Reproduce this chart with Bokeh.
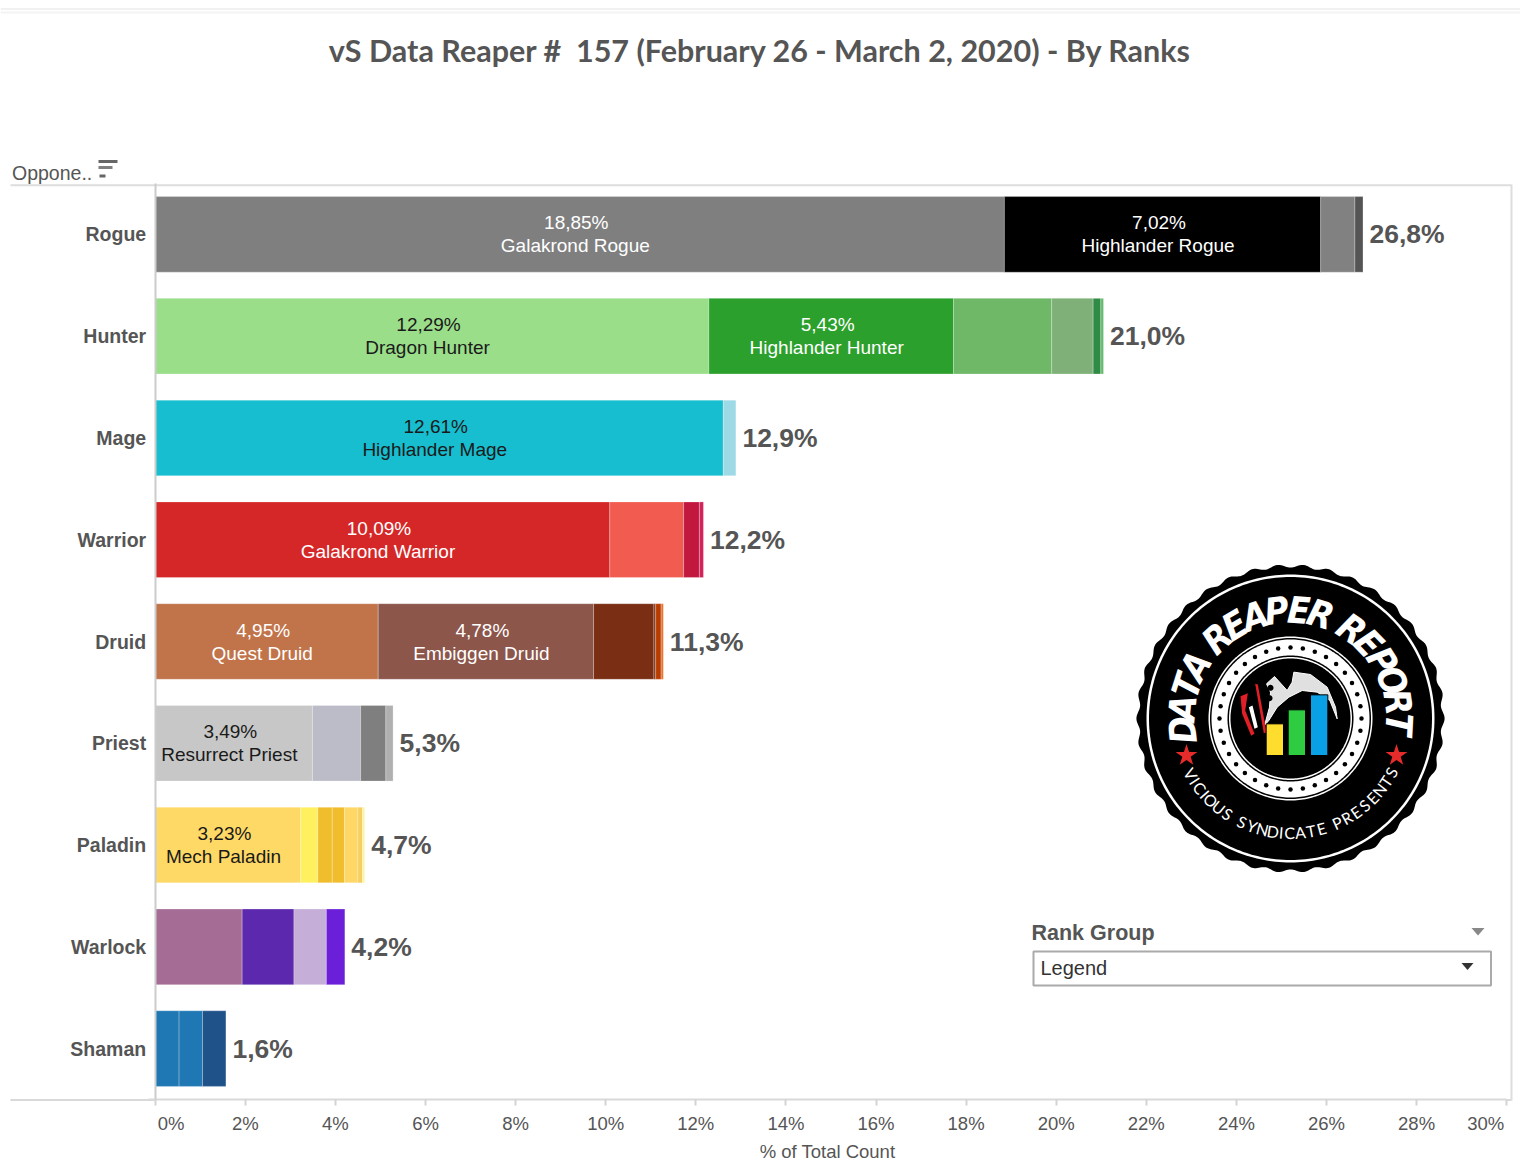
import numpy as np
from bokeh.plotting import figure
from bokeh.embed import file_html
from bokeh.resources import INLINE
from bokeh.core.properties import value
from bokeh.models import Range1d, FixedTicker, ColumnDataSource, LinearAxis

# ---- data ----
classes = ["Rogue", "Hunter", "Mage", "Warrior", "Druid", "Priest", "Paladin", "Warlock", "Shaman"]
totals = [26.8, 21.0, 12.9, 12.2, 11.3, 5.3, 4.7, 4.2, 1.6]

rogue_values = [18.85, 7.02, 0.76, 0.18]
hunter_values = [12.29, 5.43, 2.18, 0.92, 0.17, 0.06]
mage_values = [12.61, 0.28]
warrior_values = [10.09, 1.64, 0.35, 0.09]
druid_values = [4.95, 4.78, 1.34, 0.04, 0.12, 0.05]
priest_values = [3.49, 1.07, 0.56, 0.16]
paladin_values = [3.23, 0.38, 0.32, 0.27, 0.30, 0.10, 0.05]
warlock_values = [1.93, 1.15, 0.72, 0.41]
shaman_values = [0.53, 0.52, 0.52]

rogue_names = ["Galakrond Rogue", "Highlander Rogue", "", ""]
hunter_names = ["Dragon Hunter", "Highlander Hunter", "", "", "", ""]
mage_names = ["Highlander Mage", ""]
warrior_names = ["Galakrond Warrior", "", "", ""]
druid_names = ["Quest Druid", "Embiggen Druid", "", "", "", ""]
priest_names = ["Resurrect Priest", "", "", ""]
paladin_names = ["Mech Paladin", "", "", "", "", "", ""]
warlock_names = ["", "", "", ""]
shaman_names = ["", "", ""]

rogue_colors = ["#7f7f7f", "#000000", "#818181", "#555555"]
hunter_colors = ["#9ade8a", "#2ca02c", "#6eb868", "#7eb077", "#2f8b46", "#66bb6a"]
mage_colors = ["#17becf", "#9edae5"]
warrior_colors = ["#d62728", "#f25c50", "#c2183f", "#d0245a"]
druid_colors = ["#c1734a", "#8c564b", "#7a2e14", "#7a2e14", "#b83c00", "#e8702a"]
priest_colors = ["#c7c7c7", "#bcbcc8", "#7f7f7f", "#b0b0b0"]
paladin_colors = ["#ffd966", "#fff060", "#f0bd2c", "#f0bd2c", "#ffd766", "#f5cf60", "#fff29a"]
warlock_colors = ["#a56c96", "#5c28ad", "#c5aed8", "#6b1fd8"]
shaman_colors = ["#1f77b4", "#1f77b4", "#1f5289"]

dark_label_classes = ["Hunter", "Mage", "Priest", "Paladin"]
white_hunter_segment = "Highlander Hunter"

x_ticks = list(range(0, 31, 2))
title_text = "vS Data Reaper #\u00a0 157 (February 26 - March 2, 2020) - By Ranks"

GREY = "#555555"
SANS = value("Liberation Sans")

all_values = [rogue_values, hunter_values, mage_values, warrior_values, druid_values,
              priest_values, paladin_values, warlock_values, shaman_values]
all_names = [rogue_names, hunter_names, mage_names, warrior_names, druid_names,
             priest_names, paladin_names, warlock_names, shaman_names]
all_colors = [rogue_colors, hunter_colors, mage_colors, warrior_colors, druid_colors,
              priest_colors, paladin_colors, warlock_colors, shaman_colors]

# rows: first class at the top
n_rows = len(classes)
row = {c: n_rows - 1 - i for i, c in enumerate(classes)}

# ---- the frame fills the page; the axes are fixed at the plot's origin ----
W, H = 1520, 1172
X0, XS = 154.7, 45.05          # page x of 0 %, pixels per %
YB, YT = 1099, 183             # page y of the bottom and the top of the bar area
YS = (YB - YT) / n_rows
p = figure(width=W, height=H, output_backend="svg", toolbar_location=None, x_axis_location=None, y_axis_location=None,
           x_range=Range1d(-X0 / XS, (W - X0) / XS),
           y_range=Range1d((YB - H) / YS - 0.5, YB / YS - 0.5),
           min_border=0, background_fill_color="white", border_fill_color="white", outline_line_color=None)
p.extra_x_ranges["px"] = Range1d(0, W)
p.extra_y_ranges["px"] = Range1d(H, 0)
p.grid.visible = False
PX = dict(x_range_name="px", y_range_name="px")

# rules around the plot
rules_x0 = [0, 0, 10, 10, 1506]
rules_x1 = [1520, 1520, 1511, 155, 1511]
rules_y = [8.5, 12, 184.7, 1099.5, 1099.5]
rules_c = ["#f1f1f1", "#f4f4f4", "#dddddd", "#d9d9d9", "#d9d9d9"]
p.segment(x0=rules_x0, y0=rules_y, x1=rules_x1, y1=rules_y, line_color=rules_c, line_width=2, **PX)
p.segment(x0=[1511], y0=[184], x1=[1511], y1=[1100], line_color="#dddddd", line_width=2, **PX)

# axes
xa = LinearAxis(fixed_location=-0.5, bounds=(-0.15, 30))
p.add_layout(xa, "below")
xa.ticker = FixedTicker(ticks=x_ticks)
xa.major_label_overrides = {t: ("" if t in (0, 30) else f"{t}%") for t in x_ticks}
xa.major_label_text_font = "Liberation Sans"
xa.major_label_text_font_size = "18.5px"
xa.major_label_text_color = GREY
xa.major_label_standoff = 7
xa.major_tick_out = 6
xa.major_tick_in = 0
xa.minor_tick_out = 0
xa.minor_tick_in = 0
xa.major_tick_line_color = "#d4d4d4"
xa.major_tick_line_width = 2
xa.axis_line_color = "#d9d9d9"
xa.axis_line_width = 2
xa.axis_label = "% of Total Count"
xa.axis_label_text_font = "Liberation Sans"
xa.axis_label_text_font_size = "18.5px"
xa.axis_label_text_font_style = "normal"
xa.axis_label_text_color = GREY
xa.axis_label_standoff = 4

ya = LinearAxis(fixed_location=0, bounds=(-0.5, n_rows - 0.5))
p.add_layout(ya, "left")
ya.ticker = FixedTicker(ticks=list(row.values()))
ya.major_label_overrides = {v: k for k, v in row.items()}
ya.major_label_text_font = "Liberation Sans"
ya.major_label_text_font_style = "bold"
ya.major_label_text_font_size = "19.5px"
ya.major_label_text_color = GREY
ya.major_label_standoff = 9
ya.major_tick_out = 0
ya.major_tick_in = 0
ya.minor_tick_out = 0
ya.minor_tick_in = 0
ya.axis_line_color = "#cccccc"
ya.axis_line_width = 2

# the two end labels of the x axis are pushed inwards
p.text(x=[0, 30], y=[-0.5, -0.5], text=["0%", "30%"], x_offset=[16, -21], y_offset=[24, 24], text_color=GREY,
       text_font=SANS, text_font_size="18.5px", text_align="center", text_baseline="middle")

# stacked bars and labels
seg = dict(y=[], left=[], right=[], color=[])
lab = dict(y=[], x=[], pct=[], name=[], color=[])
tot = dict(y=[row[c] for c in classes], x=[sum(v) for v in all_values],
           text=[f"{t:.1f}%".replace(".", ",") for t in totals])
for cls, vals, names, cols in zip(classes, all_values, all_names, all_colors):
    left = 0.0
    for v, n, c in zip(vals, names, cols):
        seg["y"].append(row[cls]); seg["left"].append(left); seg["right"].append(left + v); seg["color"].append(c)
        if n:
            dark = cls in dark_label_classes and n != white_hunter_segment
            lab["y"].append(row[cls]); lab["x"].append(left + v / 2)
            lab["pct"].append(f"{v:.2f}%".replace(".", ","))
            lab["name"].append(n); lab["color"].append("#1a1a1a" if dark else "white")
        left += v

p.hbar(y="y", left="left", right="right", height=0.743, fill_color="color",
       line_color="white", line_alpha=0.25, line_width=1, source=ColumnDataSource(seg))
ls = ColumnDataSource(lab)
p.text(x="x", y="y", text="pct", source=ls, text_color="color", text_font=SANS, text_font_size="19px",
       text_align="center", text_baseline="middle", x_offset=-3.5, y_offset=-11.5)
p.text(x="x", y="y", text="name", source=ls, text_color="color", text_font=SANS, text_font_size="19px",
       text_align="center", text_baseline="middle", x_offset=-4.5, y_offset=11.5)
p.text(x="x", y="y", text="text", source=ColumnDataSource(tot), text_color=GREY, text_font=SANS,
       text_font_style="bold", text_font_size="26.5px", text_align="left", text_baseline="middle",
       x_offset=6.5, y_offset=0)

# title and the header of the row axis
p.text(x=[760], y=[49], text=[title_text], text_color=GREY, text_font=value("Lato"), text_font_style="bold",
       text_font_size="30.5px", text_align="center", text_baseline="middle", **PX)
p.text(x=[11.5], y=[172.5], text=["Oppone.."], text_color=GREY, text_font=SANS, text_font_size="19.5px",
       text_baseline="middle", **PX)
p.quad(left=[98, 98, 99], right=[117, 112, 105], top=[159.5, 165.5, 174], bottom=[162.5, 168.5, 177],
       fill_color=["#666666", "#808080", "#666666"], line_color=None, **PX)

# Rank Group control
p.text(x=[1031], y=[932], text=["Rank Group"], text_color=GREY, text_font=SANS, text_font_style="bold",
       text_font_size="21.5px", text_baseline="middle", **PX)
p.quad(left=[1033], right=[1490.5], top=[951], bottom=[985], fill_color="white", line_color="#aaaaaa",
       line_width=2, **PX)
p.text(x=[1040], y=[967], text=["Legend"], text_color="#333333", text_font=SANS, text_font_size="20px",
       text_baseline="middle", **PX)
p.patch(x=[1471, 1484, 1477.5], y=[927.5, 927.5, 935], fill_color="#888888", line_color=None, **PX)
p.patch(x=[1461, 1473, 1467], y=[962.5, 962.5, 969.5], fill_color="#333333", line_color=None, **PX)

# Logo
CX, CY = 1290, 718
th = np.linspace(0, 2 * np.pi, 721)
r = 152.5 + 1.6 * np.cos(38 * th)
p.patch(CX + r * np.cos(th), CY + r * np.sin(th), fill_color="black", line_color=None, **PX)


def disc(rad, color, cx=CX, cy=CY):
    a = np.linspace(0, 2 * np.pi, 241)
    p.patch(cx + rad * np.cos(a), cy + rad * np.sin(a), fill_color=color, line_color=None, **PX)


disc(144, "white"); disc(141.5, "black")
disc(82, "white"); disc(80.5, "black"); disc(79, "white"); disc(63, "black"); disc(61.5, "white"); disc(60, "black")
a = np.arange(36) * 2 * np.pi / 36
p.scatter(CX + 71 * np.cos(a), CY + 71 * np.sin(a), size=4.5, fill_color="black", line_color=None, **PX)


def arc(word, a0, a1):
    """angles of the letters of a word set along an arc, narrow letters taking less of it"""
    w = np.array([0.55 if ch in "I " else 1.0 for ch in word])
    c = np.cumsum(w) - w / 2
    return np.radians(a0) + (np.radians(a1) - np.radians(a0)) * (c - c[0]) / (c[-1] - c[0])


top_word = "DATA REAPER REPORT"
ang = arc(top_word, 186, -3)
p.text(x=CX + 108 * np.cos(ang), y=CY - 108 * np.sin(ang), text=list(top_word), angle=ang - np.pi / 2,
       text_color="white", text_font=value("DejaVu Sans Condensed"), text_font_style="bold italic",
       text_font_size="37px", text_align="center", text_baseline="middle", **PX)
bot_word = "VICIOUS SYNDICATE PRESENTS"
ang = arc(bot_word, -151, -28)
p.text(x=CX + 114 * np.cos(ang), y=CY - 114 * np.sin(ang), text=list(bot_word), angle=ang + np.pi / 2,
       text_color="white", text_font=value("Lato"), text_font_size="16px",
       text_align="center", text_baseline="middle", **PX)
p.scatter(x=[1186, 1396], y=[755, 755], marker="star", size=23, fill_color="#e62b2b", line_color=None, **PX)


def z(pts):
    return [1120 + q[0] / 3 for q in pts], [550 + q[1] / 3 for q in pts]


xs, ys = z([(432, 525), (447, 470), (450, 425), (438, 400), (462, 378), (500, 420), (515, 395), (520, 365),
            (570, 372), (620, 410), (645, 470), (650, 505), (628, 450), (590, 425), (545, 420), (505, 440),
            (470, 470), (445, 510)])
p.patch(xs, ys, fill_color="#e0e0e0", line_color="white", line_width=1, **PX)
for ex, ey in [(450, 412), (447, 443)]:
    disc(3, "black", 1120 + ex / 3, 550 + ey / 3)
xs, ys = z([(404, 400), (412, 402), (438, 545), (430, 548)])
p.patch(xs, ys, fill_color="#e11f26", line_color=None, **PX)
xs, ys = z([(360, 437), (382, 428), (374, 480), (402, 550), (392, 556), (365, 490)])
p.patch(xs, ys, fill_color="#e11f26", line_color=None, **PX)
xs, ys = z([(385, 470), (396, 465), (412, 530), (402, 535)])
p.patch(xs, ys, fill_color="white", line_color=None, **PX)
for (l, rr, t, c) in [(437, 489, 520, "#ffdd2e"), (503, 555, 478, "#2ecc40"), (570, 622, 433, "#0aa0e6")]:
    xs, ys = z([(l, t), (rr, 615)])
    p.quad(left=[xs[0]], right=[xs[1]], top=[ys[0]], bottom=[ys[1]], fill_color=c, line_color="black", line_width=1, **PX)

open("out.html", "w").write(file_html(p, INLINE))
